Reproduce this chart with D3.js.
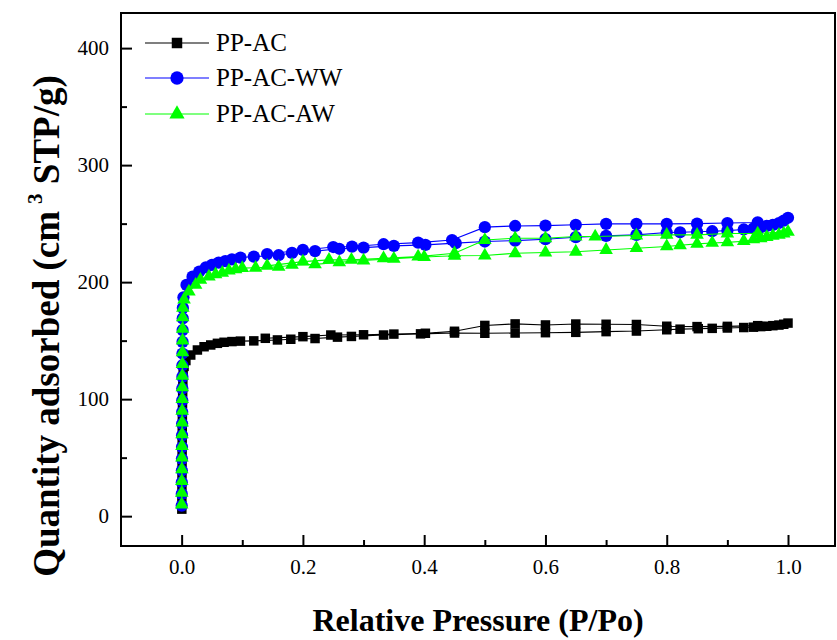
<!DOCTYPE html>
<html><head><meta charset="utf-8">
<script src="https://cdn.jsdelivr.net/npm/d3@7"></script>
<style>body{margin:0;background:#fff}</style>
</head><body>
<svg id="c" width="837" height="640"></svg>
<script>
// ---------------- DATA ----------------
const seriesNames = ["PP-AC", "PP-AC-WW", "PP-AC-AW"];

// PP-AC adsorption / desorption (P/Po, cm3 STP/g)
const acAdsP = [0.0003,0.0004,0.0005,0.0006,0.0007,0.0008,0.0009,0.001,0.0012,0.0014,0.0017,0.002,0.0025,0.004,0.007,0.015,0.026,0.037,0.048,0.059,0.07,0.083,0.097,0.119,0.158,0.18,0.22,0.257,0.28,0.333,0.394,0.45,0.5,0.55,0.6,0.65,0.7,0.75,0.8,0.822,0.852,0.875,0.9,0.927,0.943,0.955,0.965,0.975,0.985,0.993,1.0];
const acAdsV = [6,16,26,36,46,56,66,76,86,96,106,114,121,128,133,137.7,142,144.8,146.3,147.7,148.6,149.2,149.6,149.8,150.6,151.2,151.8,153,153.6,154.8,155.8,156.5,156.3,156.5,156.8,157.1,157.7,158.2,159.3,159.8,160.2,160.5,160.8,161.2,161.5,162,162.3,162.8,163.3,164,165];
const acDesP = [0.95,0.9,0.85,0.8,0.75,0.7,0.65,0.6,0.55,0.5,0.45,0.402,0.35,0.3,0.246,0.2,0.138];
const acDesV = [162.8,162.2,162,162.3,163.8,164,164.2,163.4,164.3,163,158,156.3,155.6,155,154.8,153.4,152];

// PP-AC-WW
const wwAdsP = [0.0001,0.0002,0.0003,0.0004,0.0005,0.0006,0.0007,0.0008,0.0009,0.001,0.0011,0.0012,0.0013,0.0014,0.0015,0.0016,0.0018,0.002,0.003,0.008,0.018,0.029,0.04,0.05,0.061,0.072,0.083,0.097,0.119,0.16,0.182,0.22,0.26,0.3,0.35,0.402,0.452,0.5,0.55,0.6,0.65,0.7,0.75,0.8,0.822,0.85,0.875,0.9,0.927,0.943,0.955,0.965,0.975,0.985,0.993,1.0];
const wwAdsV = [9,19,29,39,49,59,69,79,89,99,109,119,129,139,149,159,169,178,187,197.6,204.7,209,212.7,214.7,216.7,218,219.5,221,221.8,223,225,226.5,228.5,229.5,231,231.8,233.3,234.7,235.5,236.7,238.4,239.5,240.4,242.4,242.6,243,243.5,244,245,246,247,248,249,250.5,252.5,255];
const wwDesP = [0.95,0.9,0.85,0.8,0.75,0.7,0.65,0.6,0.55,0.5,0.446,0.39,0.333,0.281,0.25,0.2,0.141];
const wwDesV = [251,250.5,250,249.8,249.8,249.8,249,248.3,248,247,236,233.8,232.4,230.4,230,227.5,224];

// PP-AC-AW
const awAdsP = [0.0001,0.0002,0.0003,0.0004,0.0005,0.0006,0.0007,0.0008,0.0009,0.001,0.0011,0.0012,0.0013,0.0014,0.0015,0.0016,0.0018,0.002,0.004,0.012,0.023,0.031,0.045,0.056,0.067,0.078,0.089,0.1,0.122,0.16,0.182,0.22,0.26,0.3,0.35,0.4,0.45,0.5,0.55,0.6,0.65,0.7,0.75,0.8,0.822,0.85,0.875,0.9,0.927,0.943,0.955,0.965,0.975,0.985,0.993,1.0];
const awAdsV = [10,20,30,40,50,60,70,80,90,100,110,120,130,140,150,160,170,178,185,192,197.6,202,204.7,206.7,208,209.8,211,212,212.3,213,214.7,215.2,217,218.5,220,221.5,222.5,222.7,224.7,225.3,226,227.5,229,230.5,231.5,232.7,233.5,234,235,236.5,237.5,238.5,239.5,240.5,241.5,243];
const awDesP = [0.95,0.9,0.85,0.8,0.75,0.682,0.65,0.6,0.55,0.5,0.45,0.39,0.333,0.28,0.243,0.2,0.141];
const awDesV = [241.5,241.6,240.4,240.4,239.8,239,239,237.5,237.5,236,224.7,221.8,220.4,219,219,217.5,213.9];

const xTicks = [0.0, 0.2, 0.4, 0.6, 0.8, 1.0];
const xMinorTicks = [0.1, 0.3, 0.5, 0.7, 0.9];
const yTicks = [0, 100, 200, 300, 400];
const yMinorTicks = [50, 150, 250, 350];

const xTitle = "Relative Pressure (P/Po)";
const yTitleParts = ["Quantity adsorbed (cm", "3", " STP/g)"];

// ---------------- CHART ----------------
const svg = d3.select("#c");
const L = 121, R = 835, T = 13, B = 546;
const x = d3.scaleLinear().domain([-0.1, 1.0775]).range([L, R]);
const y = d3.scaleLinear().domain([-25.5, 430]).range([B, T]);
const FONT = "'Liberation Serif','Times New Roman',serif";

function pts(P, V) { return P.map((p, i) => [p, V[i]]); }
const series = [
  {name: seriesNames[0], color: "#000000", sym: d3.symbolSquare, size: 90,
   data: pts(acAdsP, acAdsV).concat(pts(acDesP, acDesV))},
  {name: seriesNames[1], color: "#0000ff", sym: d3.symbolCircle, size: 118,
   data: pts(wwAdsP, wwAdsV).concat(pts(wwDesP, wwDesV))},
  {name: seriesNames[2], color: "#00ff00", sym: d3.symbolTriangle, size: 80,
   data: pts(awAdsP, awAdsV).concat(pts(awDesP, awDesV))}
];

const line = d3.line().x(d => x(d[0])).y(d => y(d[1]));
const plot = svg.append("g");
series.forEach(s => {
  plot.append("path").datum(s.data).attr("d", line)
    .attr("fill", "none").attr("stroke", s.color).attr("stroke-width", 1.1);
  plot.selectAll(null).data(s.data).enter().append("path")
    .attr("d", d3.symbol().type(s.sym).size(s.size))
    .attr("transform", d => `translate(${x(d[0])},${y(d[1])})`)
    .attr("fill", s.color);
});

// axes
function styleAxis(g) {
  g.select(".domain").remove();
  g.selectAll(".tick line").attr("stroke", "#000").attr("stroke-width", 2);
  g.selectAll(".tick text").attr("font-family", FONT).attr("font-size", 21).attr("fill", "#000");
}
svg.append("g").attr("transform", `translate(0,${B})`)
  .call(d3.axisBottom(x).tickValues(xTicks).tickSize(-11).tickPadding(13).tickFormat(d3.format(".1f")))
  .call(styleAxis);
svg.append("g").attr("transform", `translate(0,${B})`)
  .call(d3.axisBottom(x).tickValues(xMinorTicks).tickSize(-6).tickFormat(""))
  .call(styleAxis);
svg.append("g").attr("transform", `translate(${L},0)`)
  .call(d3.axisLeft(y).tickValues(yTicks).tickSize(-11).tickPadding(12).tickFormat(d3.format("d")))
  .call(styleAxis);
svg.append("g").attr("transform", `translate(${L},0)`)
  .call(d3.axisLeft(y).tickValues(yMinorTicks).tickSize(-6).tickFormat(""))
  .call(styleAxis);

// frame
svg.append("rect").attr("x", L).attr("y", T).attr("width", R - L).attr("height", B - T)
  .attr("fill", "none").attr("stroke", "#000").attr("stroke-width", 2);

// legend
const legRows = [43, 78, 114];
series.forEach((s, i) => {
  const g = svg.append("g").attr("transform", `translate(0,${legRows[i]})`);
  g.append("line").attr("x1", 145).attr("x2", 209).attr("y1", 0).attr("y2", 0)
    .attr("stroke", s.color).attr("stroke-width", 1.1);
  g.append("path").attr("d", d3.symbol().type(s.sym).size(s.size + 20))
    .attr("transform", "translate(177,0)").attr("fill", s.color);
  g.append("text").attr("x", 216).attr("y", 8).attr("font-family", FONT)
    .attr("font-size", 25).attr("fill", "#000").text(s.name);
});

// axis titles
svg.append("text").attr("x", 478).attr("y", 631).attr("text-anchor", "middle")
  .attr("font-family", FONT).attr("font-size", 32).attr("font-weight", "bold").text(xTitle);

const yt = svg.append("text").attr("transform", "translate(59,326) rotate(-90)")
  .attr("text-anchor", "middle").attr("font-family", FONT).attr("font-size", 37)
  .attr("font-weight", "bold");
yt.append("tspan").text(yTitleParts[0]);
yt.append("tspan").attr("font-size", 21).attr("dy", -17).attr("dx", 7).text(yTitleParts[1]);
yt.append("tspan").attr("dy", 17).text(yTitleParts[2]);
</script>
</body></html>
